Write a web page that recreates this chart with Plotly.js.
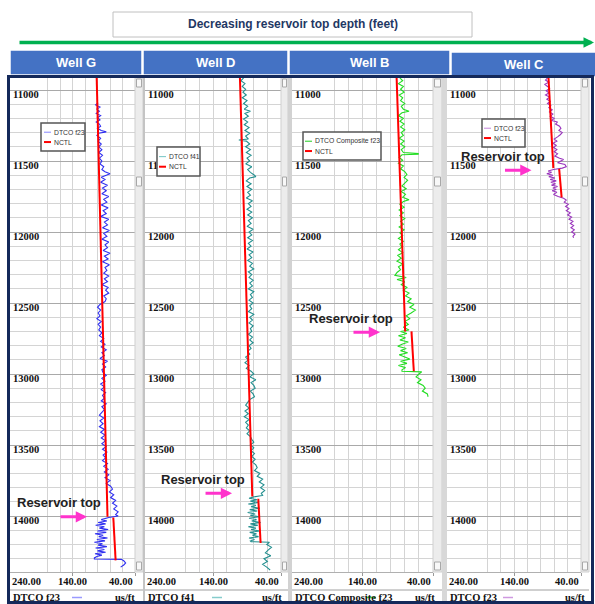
<!DOCTYPE html>
<html><head><meta charset="utf-8">
<script src="https://cdn.plot.ly/plotly-3.0.1.min.js"></script>
<style>html,body{margin:0;padding:0;background:#fff}#chart{width:595px;height:604px}</style>
</head><body><div id="chart"></div>
<script>
// ---------------- DATA ----------------
const wells = ['Well G', 'Well D', 'Well B', 'Well C'];
const curveNames = ['DTCO f23', 'DTCO f41', 'DTCO Composite f23', 'DTCO f23'];
const trendName = 'NCTL';
const unitLabel = 'us/ft';
const titleText = 'Decreasing reservoir top depth (feet)';
const markerText = 'Reservoir top';
const depthTicks = [11000, 11500, 12000, 12500, 13000, 13500, 14000];
const footerTicks = [240, 140, 40];
const footerTickLabels = ['240.00', '140.00', '40.00'];
const reservoirTop = [14005, 13840, 12705, 11565];

// Well G
const gDepth = [11090,11105,11120,11135,11150,11165,11180,11195,11210,11225,11240,11255,11270,11285,11295,11305,11320,11340,11360,11380,11400,11420,11440,11460,11480,11500,11520,11540,11560,11575,11590,11600,11615,11630,11650,11670,11690,11710,11730,11750,11770,11790,11810,11830,11850,11870,11890,11910,11930,11950,11970,11990,12010,12030,12050,12070,12090,12110,12130,12150,12170,12190,12210,12230,12250,12270,12290,12310,12330,12350,12370,12390,12410,12430,12450,12470,12490,12510,12530,12550,12570,12590,12610,12630,12650,12670,12690,12710,12730,12750,12770,12790,12810,12830,12850,12870,12890,12910,12930,12950,12970,12990,13010,13030,13050,13070,13090,13110,13130,13150,13170,13190,13210,13230,13250,13270,13290,13310,13330,13350,13370,13390,13410,13430,13450,13470,13490,13510,13530,13550,13570,13590,13610,13630,13650,13670,13690,13710,13730,13750,13770,13790,13810,13830,13850,13870,13890,13910,13930,13950,13970,13990,14000,14010,14025,14035,14045,14055,14065,14075,14085,14095,14105,14115,14125,14135,14145,14155,14165,14175,14185,14195,14205,14215,14225,14235,14245,14255,14265,14275,14285,14295,14303,14305,14315,14330,14345,14360];
const gDT = [99,103,96,101,97,102,95,100,96,102,97,95,100,94,86,98,101,95,99,94,98,93,98,92,97,93,96,90,93,88,80,86,94,88,95,84,92,86,93,82,90,85,94,83,91,86,95,82,89,84,92,81,90,85,93,82,88,84,91,80,89,83,92,81,88,85,90,82,89,84,93,83,87,82,90,86,88,96,100,95,99,96,101,94,99,95,98,93,97,90,95,88,94,86,93,89,96,84,92,87,93,91,86,93,88,95,89,94,87,92,89,94,86,93,89,93,97,90,96,91,97,89,95,88,94,87,93,86,92,85,91,87,92,84,90,83,89,82,88,80,86,79,76,81,74,79,71,76,69,74,67,71,67,82,94,85,99,87,103,89,97,83,100,86,104,91,98,84,101,88,105,92,99,85,103,89,100,87,104,93,101,105,105,62,58,55,58,63];
const gTrendDepth = [10915, 14005, null, 14010, 14312];
const gTrendDT = [101.3, 84, null, 74.7, 71];

// Well D
const dDepth = [10915,10935,10955,10975,10995,11015,11035,11055,11075,11095,11115,11135,11150,11165,11185,11205,11225,11245,11265,11285,11305,11325,11345,11352,11360,11380,11400,11420,11440,11460,11480,11500,11520,11540,11560,11580,11600,11610,11620,11640,11660,11680,11700,11720,11740,11760,11780,11800,11820,11840,11860,11880,11900,11920,11940,11960,11980,12000,12020,12040,12060,12080,12100,12120,12140,12160,12180,12200,12220,12240,12260,12280,12300,12320,12340,12360,12380,12400,12420,12440,12460,12480,12500,12520,12540,12560,12580,12600,12620,12640,12660,12680,12700,12720,12740,12760,12780,12800,12820,12840,12860,12880,12900,12920,12940,12960,12980,13000,13020,13040,13060,13080,13100,13120,13140,13160,13180,13200,13220,13240,13260,13280,13300,13320,13340,13360,13380,13400,13420,13440,13460,13480,13500,13520,13540,13560,13580,13600,13620,13640,13660,13680,13700,13720,13740,13760,13780,13800,13820,13840,13855,13865,13875,13885,13895,13905,13915,13925,13935,13945,13955,13965,13975,13985,13995,14005,14015,14025,14035,14045,14055,14065,14075,14085,14095,14105,14115,14125,14135,14145,14155,14165,14175,14180,14185,14200,14220,14240,14260,14280,14300,14320,14340,14360,14380];
const dDT = [95,99,93,97,92,96,91,97,90,95,89,94,85,93,88,95,89,94,87,93,86,92,88,102,91,86,92,85,91,84,90,86,92,83,89,85,79,77,86,91,84,90,83,89,85,91,82,88,84,90,83,89,82,88,84,90,81,87,83,89,82,88,84,90,81,87,83,89,82,86,80,88,83,87,81,86,82,88,80,85,82,87,81,86,83,88,80,86,82,87,81,85,83,88,82,86,81,87,84,89,86,92,88,93,87,91,84,80,86,77,84,80,78,85,81,79,86,89,92,87,93,88,94,87,92,88,91,86,90,85,83,80,85,80,84,79,83,78,82,77,75,79,71,75,67,72,65,70,64,69,67,80,87,75,85,73,88,77,84,71,86,75,89,78,85,72,87,76,83,70,85,74,88,77,84,71,86,76,82,73,87,79,85,84,57,61,54,59,63,55,65,60,67,61,56];
const dTrendDepth = [10915, 13862, null, 13878, 14190];
const dTrendDT = [100.4, 82.2, null, 73.4, 70];

// Well B
const bDepth = [10915,10935,10955,10975,10995,11015,11035,11055,11075,11095,11115,11135,11150,11160,11180,11200,11220,11240,11260,11280,11300,11320,11340,11360,11380,11400,11420,11440,11448,11452,11456,11475,11495,11515,11535,11555,11575,11595,11615,11635,11655,11675,11695,11715,11735,11755,11772,11785,11805,11825,11845,11865,11885,11905,11925,11945,11965,11985,12005,12025,12045,12065,12085,12105,12125,12145,12165,12185,12205,12225,12245,12265,12285,12305,12320,12335,12350,12370,12390,12410,12430,12450,12470,12490,12510,12530,12550,12570,12590,12610,12630,12650,12670,12690,12700,12715,12730,12745,12760,12775,12790,12805,12820,12835,12850,12865,12880,12895,12910,12925,12940,12955,12970,12980,12985,13000,13020,13040,13060,13080,13100,13120,13140,13160];
const bDT = [87,83,89,82,86,81,88,83,86,80,85,82,74,84,89,82,87,81,86,80,85,82,88,81,86,80,85,82,61,61,84,88,83,89,82,86,80,77,81,76,80,84,78,85,79,83,74,82,87,81,88,82,87,80,86,82,88,81,87,83,89,82,87,84,89,83,90,85,91,83,89,86,91,94,78,91,80,85,77,82,74,79,71,76,67,73,65,71,78,73,80,75,82,74,86,77,89,79,87,75,84,90,78,86,76,88,80,73,86,77,89,79,84,84,56,60,64,57,62,54,51,55,48,47];
const bTrendDepth = [10915, 12700, null, 12700, 12980];
const bTrendDT = [91.6, 79.5, null, 70.5, 67.2];

// Well C
const cDepth = [10915,10930,10945,10960,10975,10990,11005,11020,11035,11050,11065,11080,11095,11110,11125,11140,11155,11170,11185,11200,11215,11225,11240,11255,11270,11285,11300,11315,11330,11345,11360,11375,11390,11405,11420,11435,11450,11465,11480,11490,11500,11512,11525,11540,11550,11560,11570,11580,11590,11600,11610,11620,11630,11640,11650,11660,11670,11680,11690,11700,11710,11720,11735,11750,11762,11775,11790,11805,11820,11835,11850,11865,11880,11895,11910,11925,11940,11955,11970,11985,12000,12015,12030,12040];
const cDT = [90,93,88,94,90,87,92,88,93,87,91,86,90,85,88,83,87,82,86,80,84,75,78,72,70,73,68,71,75,80,76,82,77,81,76,80,75,79,72,66,70,75,64,62,68,81,89,84,91,82,88,79,86,77,85,78,84,75,82,77,83,76,81,74,66,62,65,59,63,58,62,56,60,54,58,52,56,51,55,50,54,49,52,51];
const cTrendDepth = [10915, 11550, null, 11556, 11756];
const cTrendDT = [88.5, 81.3, null, 72.6, 68.9];

// ---------------- LAYOUT HELPERS ----------------
const W = 595, H = 604;
const px = x => x / W;
const py = y => 1 - y / H;
const plotTop = 78, plotBot = 572;

const depthSets = [gDepth, dDepth, bDepth, cDepth];
const dtSets = [gDT, dDT, bDT, cDT];
const trendDepthSets = [gTrendDepth, dTrendDepth, bTrendDepth, cTrendDepth];
const trendDTSets = [gTrendDT, dTrendDT, bTrendDT, cTrendDT];

const tracks = [
  {x0: 10, x1: 135, sb: 143, color: '#3030f0', light: '#9a9aff', head: [10, 142, 50, 75],
   leg: [41, 123, 85, 151], legS: 44, dash: 77, units: 137, mk: [161.6, 116.8]},
  {x0: 145, x1: 281, sb: 288, color: '#238f8f', light: '#86cccc', head: [143, 288, 50, 75],
   leg: [157, 147, 200, 176], legS: 159, dash: 217, units: 284, mk: [154, 112]},
  {x0: 292, x1: 433, sb: 442, color: '#22dd22', light: '#44d444', head: [289, 450, 50, 75],
   leg: [303, 132, 381, 160], legS: 305, dash: 371, units: 437, mk: [156.3, 115.2]},
  {x0: 447, x1: 581, sb: 589, color: '#9a35bd', light: '#cf99e0', head: [451, 597, 52, 77],
   leg: [482, 119, 525, 147], legS: 484, dash: 508, units: 587, mk: [156, 113.9]}
];

const data = [];
const layout = {
  width: W, height: H, margin: {l: 0, r: 0, t: 0, b: 0},
  paper_bgcolor: '#ffffff', plot_bgcolor: '#ffffff', showlegend: false,
  shapes: [], annotations: []
};
const S = layout.shapes, A = layout.annotations;
const rect = (x0, y0, x1, y1, fill, line, lw) => S.push({type: 'rect', xref: 'paper', yref: 'paper',
  x0: px(x0), x1: px(x1), y0: py(y1), y1: py(y0), fillcolor: fill, line: {color: line, width: lw}, layer: 'above'});
const hline = (x0, x1, y, color, w) => S.push({type: 'line', xref: 'paper', yref: 'paper',
  x0: px(x0), x1: px(x1), y0: py(y), y1: py(y), line: {color: color, width: w}, layer: 'above'});
const text = (t, x, y, anchor, font) => A.push({text: t, xref: 'paper', yref: 'paper', x: px(x), y: py(y),
  xanchor: anchor, yanchor: 'middle', showarrow: false, font: font});

const serifBold = {family: 'Liberation Serif, Times New Roman, serif', size: 10.5, color: '#111', weight: 'bold'};
const legFont = {family: 'Liberation Sans, Arial, sans-serif', size: 6.8, color: '#333'};

// title box + arrow
rect(113, 12, 472, 37, '#ffffff', '#c0c0c0', 1);
text(titleText, 292.5, 24.5, 'center', {family: 'Liberation Sans, Arial, sans-serif', size: 12, color: '#1f3864', weight: 'bold'});
A.push({text: '', xref: 'paper', yref: 'paper', x: px(594), y: py(42.5), ax: -576, ay: 0,
  showarrow: true, arrowcolor: '#00b050', arrowwidth: 3.5, arrowhead: 2, arrowsize: 0.6});

tracks.forEach((t, i) => {
  const n = i === 0 ? '' : String(i + 1);
  const xa = 'x' + n, ya = 'y' + n;
  data.push({type: 'scatter', mode: 'lines', x: dtSets[i], y: depthSets[i], xaxis: xa, yaxis: ya,
    name: curveNames[i], line: {color: t.color, width: 1.1, simplify: false}, hoverinfo: 'skip'});
  data.push({type: 'scatter', mode: 'lines', x: trendDTSets[i], y: trendDepthSets[i], xaxis: xa, yaxis: ya,
    name: trendName, connectgaps: false, line: {color: '#ff0000', width: 2, simplify: false}, hoverinfo: 'skip'});

  layout['xaxis' + n] = {domain: [px(t.x0), px(t.x1)], range: [240, 40], anchor: ya,
    tickmode: 'array', tickvals: footerTicks.slice(), ticks: 'outside', ticklen: 3, tickcolor: '#999',
    showticklabels: false, showgrid: true, gridcolor: '#d4d4d4', gridwidth: 1,
    minor: {tick0: 40, dtick: 20, showgrid: true, gridcolor: '#d4d4d4', gridwidth: 1},
    zeroline: false, showline: true, mirror: true, linecolor: '#b0b0b0', fixedrange: true};
  layout['yaxis' + n] = {domain: [py(plotBot), py(plotTop)], range: [14394, 10915.5], anchor: xa,
    tickmode: 'array', tickvals: depthTicks.slice(), ticktext: depthTicks.map(String),
    ticklabelposition: 'inside bottom', ticklabelshift: 3, tickfont: serifBold, ticks: '',
    showgrid: true, gridcolor: '#a9a9a9', gridwidth: 1,
    minor: {tick0: 11000, dtick: 100, showgrid: true, gridcolor: '#d4d4d4', gridwidth: 1},
    zeroline: false, showline: false, fixedrange: true};

  // scrollbar
  rect(t.x1, plotTop, t.sb, plotBot, '#ececec', '#cfcfcf', 1);
  [[79, 87], [177, 186], [562, 570]].forEach(b => rect(t.x1 + 1.5, b[0], t.sb - 1.5, b[1], '#f8f8f8', '#a8a8a8', 1));

  // header
  rect(t.head[0], t.head[2], t.head[1], t.head[3], '#4472c4', '#ffffff', 1.5);
  text(wells[i], (t.head[0] + t.head[1]) / 2, (t.head[2] + t.head[3]) / 2, 'center',
    {family: 'Liberation Sans, Arial, sans-serif', size: 13, color: '#ffffff', weight: 'bold'});

  // legend box
  const L = t.leg;
  rect(L[0], L[1], L[2], L[3], '#ffffff', '#555555', 1.5);
  const r1 = L[1] + (L[3] - L[1]) * 0.33, r2 = L[1] + (L[3] - L[1]) * 0.68;
  hline(t.legS, t.legS + 7, r1, t.light, 1.2);
  hline(t.legS, t.legS + 7, r2, '#ff0000', 2);
  text(curveNames[i], t.legS + 8, r1, 'left', legFont);
  text(trendName, t.legS + 8, r2, 'left', legFont);

  // footer: scale labels
  const anchors = ['left', 'center', 'right'];
  footerTicks.forEach((v, k) => A.push({text: footerTickLabels[k], xref: xa, yref: 'paper', x: v, y: py(581.5),
    xanchor: anchors[k], yanchor: 'middle', showarrow: false, font: serifBold}));
  hline(t.x0, t.sb, 590, '#a0a0a0', 1);
  text(curveNames[i], t.x0 + 1, 597.5, 'left', serifBold);
  hline(t.dash - 5, t.dash + 5, 597.5, t.light, 1.5);
  text(unitLabel, t.units, 597.5, 'right', serifBold);

  // reservoir top marker
  A.push({text: markerText, xref: xa, yref: ya, x: t.mk[0], y: reservoirTop[i], yshift: 14,
    xanchor: 'center', yanchor: 'middle', showarrow: false,
    font: {family: 'Liberation Sans, Arial, sans-serif', size: 13, color: '#222', weight: 'bold'}});
  A.push({text: '', xref: xa, yref: ya, x: t.mk[1], y: reservoirTop[i], ax: -28, ay: 0,
    showarrow: true, arrowcolor: '#ff33cc', arrowwidth: 3, arrowhead: 2, arrowsize: 0.75});
});

// separators between tracks
rect(143, plotTop, 145, 603, '#c4c4c4', '#c4c4c4', 0);
rect(288, plotTop, 292, 603, '#d2d2d2', '#d2d2d2', 0);
rect(442, plotTop, 447, 603, '#d8d8d8', '#d8d8d8', 0);
// outer frame
rect(8.5, 76.5, 592.5, 602.5, 'rgba(0,0,0,0)', '#14295a', 3);

Plotly.newPlot('chart', data, layout, {displayModeBar: false, staticPlot: true});
</script></body></html>
